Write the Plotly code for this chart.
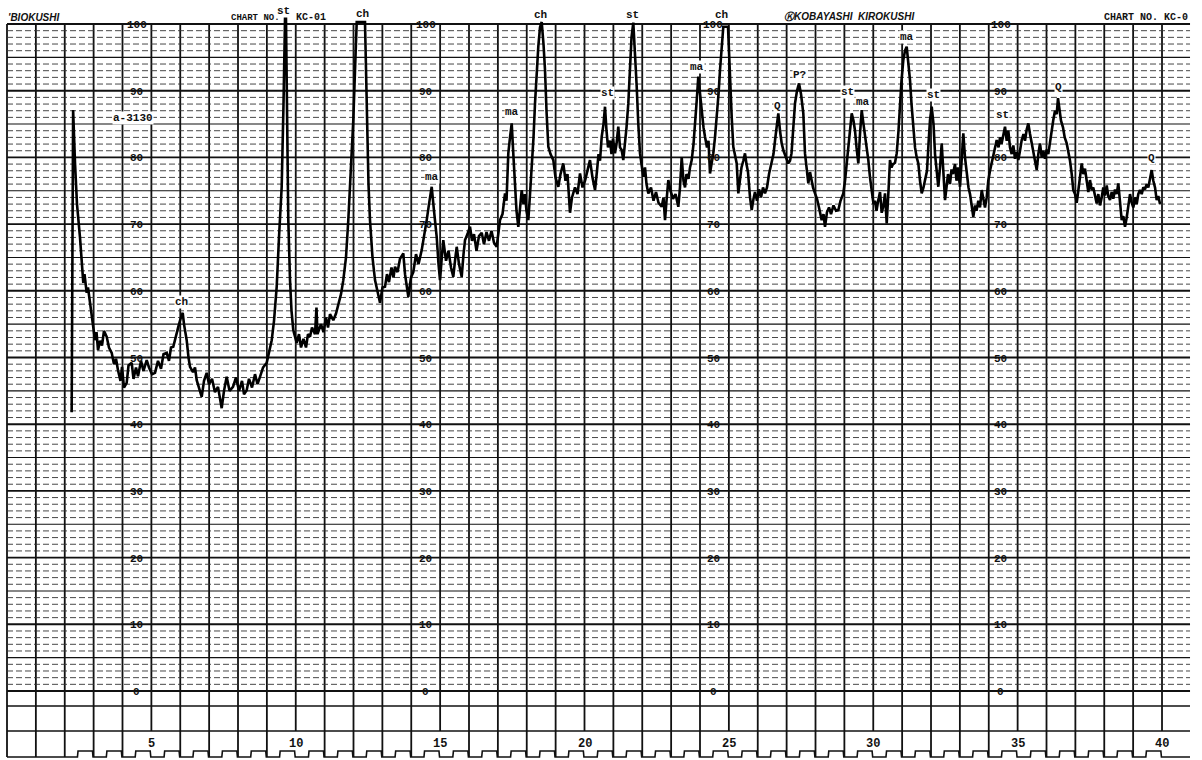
import plotly.graph_objects as go

# ---------------- data ----------------
two_theta = [
    2.24, 2.29, 2.355, 2.424, 2.528, 2.642, 2.684, 2.760, 2.805, 2.874, 2.961, 3.048, 3.100, 3.152, 3.221,
    3.290, 3.359, 3.453, 3.532, 3.626, 3.706, 3.775, 3.844, 3.931, 3.983, 4.052, 4.145, 4.208, 4.319, 4.381,
    4.468, 4.537, 4.641, 4.727, 4.838, 4.918, 5.022, 5.126, 5.229, 5.333, 5.420, 5.531, 5.610, 5.680, 5.759,
    5.853, 5.932, 6.009, 6.085, 6.130, 6.223, 6.286, 6.338, 6.442, 6.511, 6.570, 6.649, 6.743, 6.823, 6.916,
    6.996, 7.100, 7.203, 7.307, 7.435, 7.515, 7.608, 7.706, 7.827, 7.931, 8.035, 8.139, 8.208, 8.301, 8.381,
    8.485, 8.589, 8.675, 8.762, 8.866, 8.994, 9.074, 9.167, 9.247, 9.340, 9.420, 9.513, 9.576, 9.628, 9.662,
    9.697, 9.742, 9.801, 9.853, 9.915, 10.033, 10.113, 10.182, 10.268, 10.355, 10.424, 10.494, 10.563, 10.667, 10.718,
    10.753, 10.874, 10.961, 11.048, 11.117, 11.186, 11.301, 11.394, 11.498, 11.567, 11.647, 11.740, 11.820, 11.913, 11.993,
    12.052, 12.111, 12.398, 12.457, 12.519, 12.571, 12.658, 12.745, 12.848, 12.918, 13.004, 13.091, 13.160, 13.229, 13.316,
    13.385, 13.437, 13.524, 13.610, 13.725, 13.784, 13.898, 13.991, 14.071, 14.165, 14.251, 14.362, 14.442, 14.535, 14.615,
    14.708, 14.788, 14.881, 14.944, 14.996, 15.048, 15.110, 15.204, 15.290, 15.377, 15.456, 15.515, 15.574, 15.654, 15.747,
    15.810, 15.862, 15.948, 16.035, 16.104, 16.173, 16.260, 16.346, 16.440, 16.519, 16.606, 16.693, 16.779, 16.866, 16.959,
    17.022, 17.074, 17.160, 17.247, 17.299, 17.361, 17.420, 17.479, 17.541, 17.593, 17.645, 17.708, 17.766, 17.825, 17.887,
    17.939, 17.991, 18.054, 18.113, 18.171, 18.234, 18.286, 18.338, 18.400, 18.459, 18.518, 18.580, 18.632, 18.684, 18.747,
    18.823, 18.920, 18.996, 19.093, 19.169, 19.266, 19.342, 19.411, 19.498, 19.567, 19.671, 19.758, 19.844, 19.931, 20.017,
    20.104, 20.190, 20.277, 20.364, 20.433, 20.485, 20.537, 20.596, 20.658, 20.710, 20.762, 20.814, 20.883, 20.935, 20.987,
    21.056, 21.108, 21.170, 21.229, 21.288, 21.343, 21.403, 21.455, 21.517, 21.576, 21.628, 21.690, 21.749, 21.808, 21.863,
    21.922, 21.974, 22.036, 22.095, 22.147, 22.210, 22.303, 22.390, 22.476, 22.563, 22.674, 22.736, 22.788, 22.840, 22.903,
    22.978, 23.065, 23.152, 23.249, 23.307, 23.366, 23.428, 23.481, 23.532, 23.602, 23.654, 23.713, 23.775, 23.827, 23.886,
    23.941, 24.000, 24.059, 24.121, 24.173, 24.242, 24.294, 24.346, 24.398, 24.460, 24.519, 24.578, 24.641, 24.693, 24.752,
    24.807, 24.970, 25.004, 25.039, 25.098, 25.153, 25.212, 25.271, 25.327, 25.385, 25.437, 25.500, 25.558, 25.610, 25.662,
    25.732, 25.790, 25.853, 25.905, 25.974, 26.043, 26.113, 26.182, 26.251, 26.320, 26.390, 26.483, 26.545, 26.597, 26.649,
    26.712, 26.771, 26.829, 26.892, 26.944, 26.996, 27.058, 27.117, 27.169, 27.221, 27.290, 27.359, 27.429, 27.498, 27.578,
    27.636, 27.688, 27.751, 27.810, 27.861, 27.913, 27.983, 28.052, 28.121, 28.214, 28.277, 28.329, 28.398, 28.468, 28.537,
    28.623, 28.710, 28.790, 28.866, 28.963, 29.022, 29.074, 29.136, 29.195, 29.254, 29.316, 29.368, 29.420, 29.483, 29.541,
    29.600, 29.662, 29.714, 29.766, 29.829, 29.887, 29.946, 30.009, 30.061, 30.113, 30.175, 30.234, 30.293, 30.355, 30.407,
    30.466, 30.528, 30.580, 30.632, 30.684, 30.753, 30.812, 30.874, 30.926, 30.978, 31.041, 31.100, 31.158, 31.221, 31.273,
    31.325, 31.387, 31.446, 31.505, 31.561, 31.619, 31.678, 31.740, 31.792, 31.861, 31.913, 31.965, 32.024, 32.087, 32.139,
    32.197, 32.253, 32.312, 32.370, 32.433, 32.485, 32.537, 32.589, 32.658, 32.710, 32.762, 32.831, 32.883, 32.935, 33.004,
    33.056, 33.119, 33.177, 33.235, 33.298, 33.351, 33.403, 33.465, 33.524, 33.576, 33.638, 33.697, 33.756, 33.818, 33.870,
    33.929, 33.984, 34.043, 34.102, 34.165, 34.217, 34.275, 34.338, 34.390, 34.442, 34.504, 34.563, 34.622, 34.677, 34.736,
    34.795, 34.851, 34.909, 34.968, 35.024, 35.082, 35.141, 35.203, 35.255, 35.314, 35.370, 35.429, 35.488, 35.543, 35.602,
    35.661, 35.716, 35.775, 35.834, 35.890, 35.948, 36.007, 36.062, 36.121, 36.180, 36.235, 36.294, 36.353, 36.398, 36.450,
    36.502, 36.571, 36.630, 36.700, 36.755, 36.814, 36.873, 36.928, 36.987, 37.046, 37.101, 37.160, 37.219, 37.274, 37.333,
    37.392, 37.448, 37.506, 37.565, 37.620, 37.679, 37.738, 37.794, 37.853, 37.911, 37.966, 38.026, 38.085, 38.140, 38.199,
    38.258, 38.313, 38.372, 38.431, 38.486, 38.545, 38.604, 38.659, 38.719, 38.777, 38.833, 38.892, 38.950, 39.006, 39.065,
    39.124, 39.179, 39.238, 39.297, 39.352, 39.411, 39.470, 39.526, 39.584, 39.643, 39.699, 39.758, 39.816, 39.872, 39.931,
]
intensity = [
    41.8, 87.1, 79.2, 73.0, 68.0, 61.2, 62.5, 59.7, 60.5, 58.2, 55.0, 52.6, 53.8, 51.1, 52.5,
    51.8, 54.0, 53.1, 51.5, 50.7, 49.0, 49.8, 48.1, 46.5, 48.6, 45.5, 46.2, 48.8, 49.2, 46.8,
    48.5, 47.2, 49.5, 48.0, 49.6, 48.5, 47.5, 47.7, 49.5, 48.3, 50.5, 50.7, 49.5, 51.5, 51.6,
    53.5, 54.6, 55.8, 56.7, 55.0, 52.6, 50.0, 48.6, 47.8, 48.5, 46.6, 45.5, 44.1, 46.5, 47.7,
    46.0, 46.8, 44.8, 45.6, 42.4, 45.0, 47.1, 45.0, 45.6, 47.0, 45.0, 46.5, 44.5, 45.1, 46.8,
    45.5, 47.5, 46.0, 47.1, 48.5, 49.2, 51.0, 52.6, 55.5, 60.6, 68.0, 75.6, 88.0, 100.8, 100.8,
    85.0, 70.6, 61.6, 57.0, 54.1, 52.2, 53.5, 51.5, 52.8, 51.5, 53.5, 53.1, 54.5, 53.5, 57.5,
    53.5, 55.0, 53.8, 56.0, 54.5, 56.5, 55.6, 56.6, 58.5, 59.5, 61.6, 65.0, 70.6, 78.0, 85.6,
    93.0, 100.3, 100.3, 85.6, 76.0, 70.6, 65.0, 61.6, 59.5, 58.2, 60.5, 60.6, 62.5, 61.3, 63.5,
    62.0, 63.6, 62.8, 64.8, 65.6, 62.5, 59.1, 62.0, 62.8, 65.5, 64.0, 66.1, 68.0, 70.6, 73.0,
    75.6, 72.0, 68.1, 64.0, 61.6, 64.5, 67.6, 64.5, 66.0, 63.5, 62.1, 64.5, 66.6, 64.0, 62.1,
    65.5, 67.6, 68.5, 69.6, 67.5, 68.5, 66.0, 68.2, 68.7, 67.0, 68.8, 67.5, 69.0, 67.2, 66.6,
    69.0, 70.6, 71.5, 74.6, 73.5, 80.6, 83.0, 85.1, 80.0, 75.0, 72.0, 69.6, 72.5, 75.1, 73.0,
    74.5, 72.0, 70.6, 74.5, 78.1, 83.0, 88.1, 92.5, 96.6, 99.5, 100.3, 97.0, 93.1, 87.0, 81.6,
    80.5, 79.6, 77.0, 75.6, 77.5, 79.1, 76.5, 77.5, 71.7, 74.0, 75.5, 74.5, 77.6, 75.5, 76.5,
    78.0, 79.6, 77.0, 75.1, 78.0, 80.5, 79.5, 83.1, 85.0, 87.6, 84.0, 81.5, 82.5, 80.5, 82.8,
    80.6, 82.0, 84.6, 81.5, 81.1, 79.6, 82.0, 84.5, 88.1, 93.0, 98.0, 100.2, 96.0, 90.6, 85.0,
    80.6, 79.0, 77.1, 78.5, 76.0, 74.6, 75.5, 73.5, 74.8, 73.2, 72.6, 74.0, 70.6, 73.5, 76.6,
    75.0, 73.8, 74.5, 72.6, 75.5, 80.0, 76.5, 75.5, 77.5, 76.8, 78.5, 79.6, 82.0, 84.6, 88.5,
    92.1, 89.5, 86.6, 84.5, 83.1, 81.5, 82.5, 77.6, 79.0, 80.6, 83.0, 85.6, 89.5, 93.1, 97.0,
    99.6, 99.6, 96.0, 90.6, 86.0, 81.6, 80.0, 79.1, 74.6, 76.5, 78.5, 79.5, 80.6, 79.0, 77.8,
    74.0, 72.1, 73.8, 74.8, 73.5, 75.2, 74.0, 75.5, 74.6, 75.5, 77.5, 79.6, 80.5, 82.5, 84.5,
    86.6, 84.0, 82.1, 81.0, 80.5, 79.8, 79.1, 79.5, 80.6, 84.0, 88.1, 90.0, 91.1, 89.5, 86.6,
    80.6, 78.0, 76.1, 77.8, 76.6, 75.5, 74.6, 73.8, 72.5, 70.6, 71.5, 69.6, 71.8, 72.5, 71.5,
    72.8, 72.0, 72.1, 73.5, 74.6, 76.5, 78.8, 80.6, 84.0, 86.6, 85.5, 84.0, 81.5, 79.1, 83.5,
    87.1, 85.0, 83.5, 81.5, 79.6, 77.0, 74.6, 73.0, 73.5, 72.0, 73.6, 74.8, 71.7, 72.8, 74.6,
    70.1, 75.0, 79.6, 78.5, 79.0, 79.2, 80.6, 84.0, 88.1, 91.5, 94.6, 96.0, 96.6, 94.0, 91.6,
    88.0, 84.1, 81.5, 80.0, 79.1, 76.5, 74.6, 75.5, 76.5, 78.0, 82.0, 85.6, 87.6, 85.0, 80.5,
    78.0, 75.6, 78.5, 82.1, 77.5, 73.6, 75.5, 77.5, 76.0, 78.2, 77.5, 79.0, 76.5, 78.5, 75.6,
    79.5, 83.6, 80.0, 77.6, 75.5, 74.5, 72.5, 71.1, 72.8, 72.0, 73.5, 72.5, 75.1, 73.5, 72.5,
    74.0, 76.5, 78.0, 79.1, 80.5, 81.5, 82.6, 81.5, 83.0, 82.0, 83.5, 84.6, 82.5, 84.0, 81.5,
    80.5, 81.8, 79.8, 80.8, 79.6, 81.0, 82.6, 83.5, 82.5, 84.2, 85.1, 83.5, 82.0, 80.5, 79.5,
    78.1, 80.5, 82.1, 80.0, 81.0, 79.8, 81.2, 80.5, 82.5, 84.5, 85.6, 87.0, 86.5, 88.9, 87.5,
    85.5, 84.5, 83.0, 82.1, 81.0, 79.5, 77.5, 75.1, 74.5, 73.2, 75.0, 77.2, 79.1, 77.5, 78.3,
    76.5, 74.8, 76.6, 75.1, 75.5, 74.5, 73.1, 74.5, 72.8, 74.0, 75.5, 74.3, 75.8, 74.2, 73.6,
    74.8, 73.8, 75.2, 74.5, 76.1, 73.5, 70.6, 71.2, 69.6, 71.0, 72.5, 74.5, 73.2, 72.5, 74.0,
    73.0, 74.5, 75.1, 74.5, 75.5, 75.2, 76.0, 75.5, 77.0, 78.1, 76.5, 75.5, 73.6, 74.2, 73.0,
]

# axis / scale texts
deg_ticks = [5, 10, 15, 20, 25, 30, 35, 40]
deg_tick_labels = ["5", "10", "15", "20", "25", "30", "35", "40"]
scale_values = [100, 90, 80, 70, 60, 50, 40, 30, 20, 10, 0]
scale_labels = ["100", "90", "80", "70", "60", "50", "40", "30", "20", "10", "0"]
scale_columns = [4.50, 14.51, 24.45, 34.42]

# mineral peak labels
peak_texts = ["a-3130", "ch", "ma", "ma", "st", "ma", "Q", "P?", "st", "ma", "ma", "st", "st", "Q", "Q"]
peak_x = [4.36, 6.06, 14.72, 17.49, 20.78, 23.90, 26.70, 27.46, 29.12, 29.65, 31.17, 32.07, 34.49, 36.40, 39.65]
peak_y = [85.9, 58.3, 77.1, 86.8, 89.6, 93.5, 87.7, 92.3, 89.8, 88.3, 98.0, 89.3, 86.3, 90.5, 79.9]

# labels of off-scale peaks, written in the header row
top_texts = ["st", "ch", "ch", "st", "ch"]
top_x = [9.56, 12.30, 18.46, 21.65, 24.76]
top_y = [101.9, 101.5, 101.4, 101.4, 101.4]

# header texts
header_texts = ["'BIOKUSHI", "CHART NO.", "KC-01", "\u24c0KOBAYASHI  KIROKUSHI", "CHART NO. KC-0"]
header_x = [-0.05, 7.70, 9.93, 26.85, 37.92]
header_y = [101.0, 100.95, 100.95, 101.2, 100.95]
header_italic = [True, False, False, True, False]
header_size = [10, 9, 10, 10, 10]

# chart paper geometry (in data units)
X_MIN, X_MAX = -0.2424, 41.385
Y_MIN, Y_MAX = -10.345, 103.6
GRID_RIGHT = 40.97
BELOW_LINES = [-2.25, -6.0]
LABEL_ROW_TOP = -6.0
BASELINE = -9.9
SPROCKET_TOP = -9.0

INK = "#111111"

fig = go.Figure()

shapes = []
# vertical degree lines
for k in range(0, 41):
    y0 = LABEL_ROW_TOP if (k % 5 == 0 and k > 0) else BASELINE
    shapes.append(dict(type="line", xref="x", yref="y", x0=k, x1=k, y0=y0, y1=100,
                       line=dict(color=INK, width=1.8), layer="below"))
# horizontal intensity lines
for v in range(0, 101):
    if v % 10 == 0:
        ln = dict(color=INK, width=1.9)
    elif v % 5 == 0:
        ln = dict(color=INK, width=1.1)
    else:
        ln = dict(color="#333333", width=0.9, dash="6px,3px")
    shapes.append(dict(type="line", xref="x", yref="y", x0=0, x1=GRID_RIGHT, y0=v, y1=v,
                       line=ln, layer="below"))
for v in BELOW_LINES:
    shapes.append(dict(type="line", xref="x", yref="y", x0=0, x1=GRID_RIGHT, y0=v, y1=v,
                       line=dict(color=INK, width=1.5), layer="below"))

# sprocket edge of the paper
sx, sy = [0], [BASELINE]
for k in range(3, 41):
    sx += [k - 0.56, k - 0.54, k - 0.04, k - 0.02]
    sy += [BASELINE, SPROCKET_TOP, SPROCKET_TOP, BASELINE]
sx.append(GRID_RIGHT)
sy.append(BASELINE)
fig.add_trace(go.Scatter(x=sx, y=sy, mode="lines", line=dict(color=INK, width=1.6),
                         hoverinfo="skip", showlegend=False))

# diffraction trace
fig.add_trace(go.Scatter(x=two_theta, y=intensity, mode="lines",
                         line=dict(color="#000000", width=2.6),
                         hoverinfo="skip", showlegend=False))

ann = []
mono = "Liberation Mono, DejaVu Sans Mono, monospace"
for cx in scale_columns:
    for v, t in zip(scale_values, scale_labels):
        ann.append(dict(x=cx, y=v, text=t, showarrow=False, xref="x", yref="y",
                        font=dict(family=mono, size=11, color=INK, weight="bold"),
                        yshift=-1))
for d, t in zip(deg_ticks, deg_tick_labels):
    ann.append(dict(x=d, y=-7.95, text=t, showarrow=False, xref="x", yref="y",
                    font=dict(family=mono, size=12, color=INK, weight="bold")))
for t, x, y in zip(peak_texts, peak_x, peak_y):
    ann.append(dict(x=x, y=y, text=t, showarrow=False, xref="x", yref="y",
                    bgcolor="white", borderpad=0,
                    font=dict(family=mono, size=11, color=INK, weight="bold")))
for t, x, y in zip(top_texts, top_x, top_y):
    ann.append(dict(x=x, y=y, text=t, showarrow=False, xref="x", yref="y",
                    font=dict(family=mono, size=11, color=INK, weight="bold")))
for t, x, y, it, sz in zip(header_texts, header_x, header_y, header_italic, header_size):
    if it:
        f = dict(family="Liberation Sans, Arial, sans-serif", size=sz, color=INK,
                 weight="bold", style="italic")
    else:
        f = dict(family=mono, size=sz, color=INK, weight="bold")
    ann.append(dict(x=x, y=y, text=t, showarrow=False, xref="x", yref="y",
                    xanchor="left", font=f))

fig.update_layout(
    width=1202, height=760,
    margin=dict(l=0, r=0, t=0, b=0),
    paper_bgcolor="white", plot_bgcolor="white",
    xaxis=dict(range=[X_MIN, X_MAX], visible=False, fixedrange=True),
    yaxis=dict(range=[Y_MIN, Y_MAX], visible=False, fixedrange=True),
    shapes=shapes, annotations=ann,
    hovermode=False, showlegend=False,
)

fig.write_html("out.html", config={"displayModeBar": False},
               post_script="document.body.style.margin='0';document.body.style.overflow='hidden';")
